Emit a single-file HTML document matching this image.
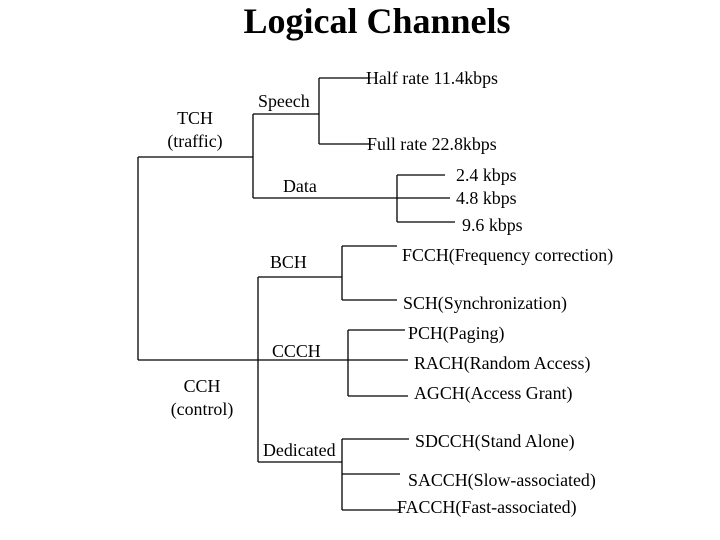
<!DOCTYPE html>
<html><head><style>
html,body{margin:0;padding:0;background:#fff;}
svg{display:block;}
text{font-family:"Liberation Serif",serif;font-size:17.9px;fill:#000;dominant-baseline:central;}
</style></head><body>
<svg width="720" height="540" viewBox="0 0 720 540">
<text x="377" y="21" text-anchor="middle" style="font-size:36px;font-weight:bold">Logical Channels</text>
<g stroke="#000" stroke-width="1.3" fill="none">
<path d="M138 157V360M138 157H253M253 114V198M253 114H319M319 78V144M319 78H370M319 144H370"/>
<path d="M253 198H450M397 175V222M397 175H445M397 222H455"/>
<path d="M138 360H408M258 277V462M258 277H342M342 246V300M342 246H397M342 300H397"/>
<path d="M348 330V396M348 330H405M348 396H408"/>
<path d="M258 462H342M342 439V510M342 439H409M342 474H400M342 510H400"/>
</g>
<text x="195" y="118" text-anchor="middle">TCH</text>
<text x="195" y="141" text-anchor="middle">(traffic)</text>
<text x="258" y="101">Speech</text>
<text x="366" y="78">Half rate 11.4kbps</text>
<text x="367" y="144">Full rate 22.8kbps</text>
<text x="283" y="186">Data</text>
<text x="456" y="175">2.4 kbps</text>
<text x="456" y="198">4.8 kbps</text>
<text x="462" y="225">9.6 kbps</text>
<text x="270" y="262">BCH</text>
<text x="402" y="255">FCCH(Frequency correction)</text>
<text x="403" y="303">SCH(Synchronization)</text>
<text x="272" y="351">CCCH</text>
<text x="408" y="333">PCH(Paging)</text>
<text x="414" y="363">RACH(Random Access)</text>
<text x="414" y="393">AGCH(Access Grant)</text>
<text x="202" y="386" text-anchor="middle">CCH</text>
<text x="202" y="409" text-anchor="middle">(control)</text>
<text x="263" y="450">Dedicated</text>
<text x="415" y="441">SDCCH(Stand Alone)</text>
<text x="408" y="480">SACCH(Slow-associated)</text>
<text x="397" y="507">FACCH(Fast-associated)</text>
</svg>
</body></html>
